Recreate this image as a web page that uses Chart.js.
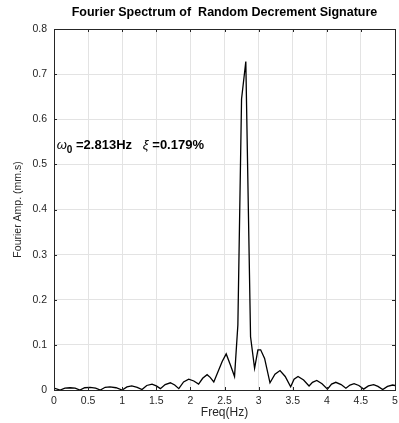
<!DOCTYPE html>
<html>
    <head>
        <title>Fourier Spectrum</title>
        <script src="https://cdnjs.cloudflare.com/ajax/libs/Chart.js/4.4.0/chart.umd.min.js"></script>
        <style>
            body { margin: 0; background: #ffffff; }
            #wrap { width: 399px; height: 423px; position: relative; }
        </style>
    </head>
    <body>
        <div id="wrap"><canvas id="chartCanvas" width="399" height="423"></canvas></div>
        <script type="text/javascript">
            // spectrum (frequency in Hz, amplitude in mm.s)
            const freq = [0, 0.09, 0.16, 0.235, 0.31, 0.38, 0.45, 0.53, 0.61, 0.68, 0.75, 0.82, 0.91, 1.0,
                1.07, 1.14, 1.22, 1.29, 1.36, 1.437, 1.50, 1.56, 1.63, 1.706, 1.77, 1.83, 1.90, 1.975, 2.05,
                2.12, 2.18, 2.245, 2.29, 2.343, 2.466, 2.525, 2.588, 2.647, 2.696, 2.75, 2.8125, 2.882, 2.941,
                2.99, 3.03, 3.088, 3.167, 3.24, 3.314, 3.39, 3.47, 3.52, 3.578, 3.66, 3.74, 3.79, 3.853, 3.93,
                4.01, 4.07, 4.132, 4.21, 4.28, 4.34, 4.40, 4.47, 4.54, 4.61, 4.687, 4.75, 4.82, 4.89, 4.966, 5.0];
            const amp = [0.004, 0.000, 0.004, 0.005, 0.004, 0.000, 0.005, 0.006, 0.004, 0.000, 0.006, 0.007, 0.005, 0.000,
                0.007, 0.009, 0.006, 0.001, 0.010, 0.013, 0.009, 0.003, 0.012, 0.016, 0.011, 0.003, 0.018, 0.024, 0.020,
                0.013, 0.026, 0.034, 0.028, 0.018, 0.063, 0.080, 0.055, 0.030, 0.144, 0.645, 0.728, 0.118, 0.048,
                0.089, 0.089, 0.070, 0.016, 0.035, 0.043, 0.030, 0.007, 0.024, 0.030, 0.022, 0.009, 0.017, 0.021, 0.014,
                0.002, 0.013, 0.017, 0.012, 0.004, 0.011, 0.014, 0.010, 0.002, 0.009, 0.012, 0.008, 0.001, 0.008, 0.011, 0.010];

            const xTicks = [0, 0.5, 1, 1.5, 2, 2.5, 3, 3.5, 4, 4.5, 5];
            const yTicks = [0, 0.1, 0.2, 0.3, 0.4, 0.5, 0.6, 0.7, 0.8];

            const titleText = 'Fourier Spectrum of  Random Decrement Signature';
            const xLabel = 'Freq(Hz)';
            const yLabel = 'Fourier Amp. (mm.s)';

            const axisColor = '#262626';
            const gridColor = '#e3e3e3';
            const fontFam = '"Liberation Sans", Arial, Helvetica, sans-serif';

            // title, axis labels, box, inward ticks and the annotation
            const matlabLook = {
                id: 'matlabLook',
                afterDraw(chart) {
                    const ctx = chart.ctx;
                    const a = chart.chartArea;
                    const xs = chart.scales.x, ys = chart.scales.y;
                    ctx.save();
                    ctx.strokeStyle = axisColor;
                    ctx.lineWidth = 1;
                    // inward ticks on all four sides
                    ctx.beginPath();
                    xTicks.forEach(v => {
                        const px = Math.round(xs.getPixelForValue(v)) + 0.5;
                        ctx.moveTo(px, a.bottom); ctx.lineTo(px, a.bottom - 3);
                        ctx.moveTo(px, a.top); ctx.lineTo(px, a.top + 3);
                    });
                    yTicks.forEach(v => {
                        const py = Math.round(ys.getPixelForValue(v)) + 0.5;
                        ctx.moveTo(a.left, py); ctx.lineTo(a.left + 3, py);
                        ctx.moveTo(a.right, py); ctx.lineTo(a.right - 3, py);
                    });
                    ctx.stroke();
                    ctx.strokeRect(Math.round(a.left) + 0.5, Math.round(a.top) + 0.5,
                        Math.round(a.right - a.left), Math.round(a.bottom - a.top));

                    // title
                    ctx.fillStyle = '#000000';
                    ctx.textAlign = 'center';
                    ctx.textBaseline = 'middle';
                    ctx.font = 'bold 12.5px ' + fontFam;
                    ctx.fillText(titleText, (a.left + a.right) / 2, 13);

                    // axis labels
                    ctx.fillStyle = axisColor;
                    ctx.font = '12px ' + fontFam;
                    ctx.fillText(xLabel, (a.left + a.right) / 2, 413);
                    ctx.save();
                    ctx.translate(18, (a.top + a.bottom) / 2);
                    ctx.rotate(-Math.PI / 2);
                    ctx.font = '10.5px ' + fontFam;
                    ctx.fillText(yLabel, 0, 0);
                    ctx.restore();

                    // annotation: omega_0 and xi
                    ctx.fillStyle = '#000000';
                    ctx.textAlign = 'left';
                    ctx.textBaseline = 'alphabetic';
                    let x = xs.getPixelForValue(0.04);
                    const y = ys.getPixelForValue(0.535);
                    const part = (txt, font, dy) => {
                        ctx.font = font;
                        ctx.fillText(txt, x, y + dy);
                        x += ctx.measureText(txt).width;
                    };
                    part('\u03C9', 'italic 13px ' + fontFam, 0);
                    part('0', 'bold 10px ' + fontFam, 4);
                    part(' =2.813Hz   ', 'bold 13px ' + fontFam, 0);
                    part('\u03BE', 'italic 13px ' + fontFam, 0);
                    part(' =0.179%', 'bold 13px ' + fontFam, 0);
                    ctx.restore();
                }
            };

            const points = freq.map((f, i) => ({ x: f, y: amp[i] }));

            const config = {
                type: 'line',
                data: {
                    datasets: [{
                        data: points,
                        borderColor: '#000000',
                        borderWidth: 1.3,
                        pointRadius: 0,
                        tension: 0,
                        fill: false
                    }]
                },
                options: {
                    responsive: false,
                    animation: false,
                    layout: { padding: { top: 29, right: 4, left: 0, bottom: 0 } },
                    plugins: { legend: { display: false }, tooltip: { enabled: false }, title: { display: false } },
                    scales: {
                        x: {
                            type: 'linear', min: 0, max: 5,
                            afterBuildTicks: s => { s.ticks = xTicks.map(v => ({ value: v })); },
                            afterFit: s => { s.height = 33; s.paddingLeft = 0; s.paddingRight = 0; },
                            grid: { color: gridColor, drawTicks: false },
                            border: { display: false },
                            ticks: {
                                color: axisColor, padding: 5,
                                font: { family: fontFam, size: 10.5 },
                                callback: v => String(v)
                            }
                        },
                        y: {
                            type: 'linear', min: 0, max: 0.8,
                            afterBuildTicks: s => { s.ticks = yTicks.map(v => ({ value: v })); },
                            afterFit: s => { s.width = 54; s.paddingTop = 0; s.paddingBottom = 0; },
                            grid: { color: gridColor, drawTicks: false },
                            border: { display: false },
                            ticks: {
                                color: axisColor, padding: 7,
                                font: { family: fontFam, size: 10.5 },
                                callback: v => String(Math.round(v * 10) / 10)
                            }
                        }
                    }
                },
                plugins: [matlabLook]
            };

            new Chart(document.getElementById('chartCanvas').getContext('2d'), config);
        </script>
    </body>
</html>
